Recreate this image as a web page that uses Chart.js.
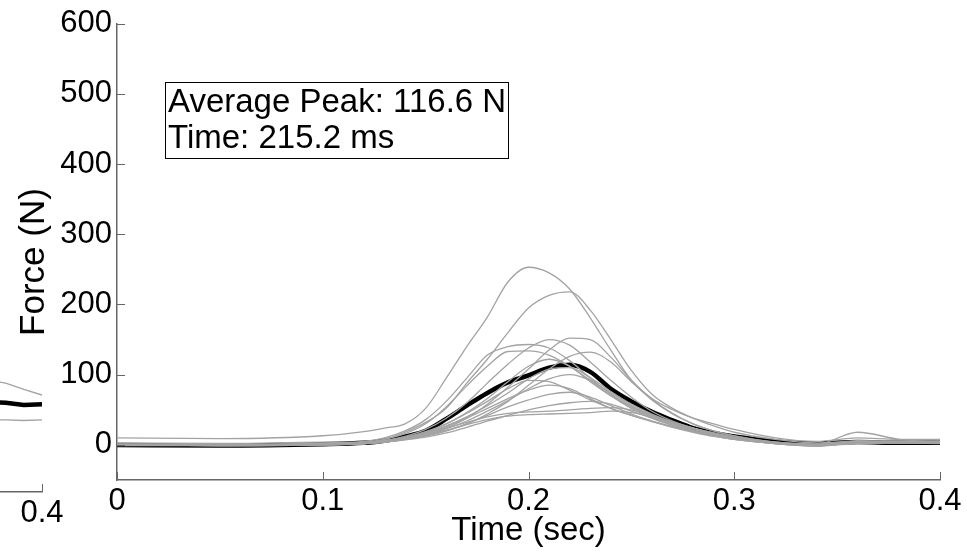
<!DOCTYPE html>
<html lang="en">
<head>
    <meta charset="UTF-8">
    <title>Force vs Time</title>
    <script src="https://cdn.jsdelivr.net/npm/chart.js"></script>
    <style>
        * { margin: 0; padding: 0; box-sizing: border-box; }
        body { width: 967px; height: 553px; background: #fff; overflow: hidden; position: relative; }
        #main { position: absolute; left: 0; top: 0; }
        #side { position: absolute; left: -164px; top: 0; }
    </style>
</head>
<body>
    <canvas id="side" width="250" height="553"></canvas>
    <canvas id="main" width="967" height="553"></canvas>
    <script>
        // sample times (sec)
        const times = [0, 0.05, 0.1, 0.12, 0.13, 0.14, 0.15, 0.16, 0.17, 0.18, 0.19, 0.2, 0.21, 0.22, 0.23, 0.24, 0.25, 0.26, 0.27, 0.28, 0.29, 0.3, 0.32, 0.34, 0.36, 0.38, 0.4];

        // individual trials (N)
        const trialA = [10, 9, 13, 19, 24, 30, 52, 95, 140, 182, 232, 253, 245, 222, 181, 135, 92, 66, 50, 38, 30, 22, 10, 5, 10, 8, 8];
        const trialB = [3, 2, 4, 3, 8, 18, 32, 52, 88, 122, 160, 195, 213, 218, 192, 150, 106, 72, 52, 38, 27, 18, 8, 3, 5, 5, 5];
        const trialC = [0, -1, 1, 2, 4, 8, 14, 24, 38, 58, 82, 108, 135, 152, 150, 125, 92, 65, 45, 30, 20, 13, 4, 0, 3, 4, 4];
        const trialD = [1, 0, 1, 3, 6, 12, 22, 38, 60, 88, 115, 138, 150, 142, 118, 92, 68, 48, 34, 24, 16, 10, 3, -1, 2, 3, 3];
        const trialE = [0, 0, 2, 5, 10, 20, 36, 62, 95, 128, 140, 143, 138, 120, 95, 72, 54, 40, 30, 22, 15, 10, 3, 0, 4, 5, 4];
        const trialF = [1, 0, 2, 4, 8, 16, 30, 54, 84, 112, 133, 134, 128, 112, 92, 70, 52, 38, 28, 20, 14, 9, 2, -1, 3, 4, 5];
        const trialG = [0, -1, 0, 2, 4, 8, 13, 20, 30, 44, 62, 85, 108, 126, 132, 118, 90, 64, 44, 30, 20, 13, 4, 1, 6, 5, 4];
        const trialH = [0, 0, 1, 3, 6, 11, 19, 30, 46, 66, 90, 112, 122, 112, 90, 70, 54, 42, 32, 24, 17, 11, 3, 0, 5, 4, 3];
        const trialI = [-1, -1, 0, 2, 5, 10, 17, 27, 40, 56, 74, 94, 108, 110, 96, 76, 58, 44, 33, 24, 16, 10, 2, -1, 4, 3, 2];
        const trialJ = [0, 0, 1, 2, 4, 8, 14, 23, 34, 48, 63, 80, 94, 100, 92, 74, 56, 42, 31, 22, 15, 9, 3, 1, 18, 8, 4];
        const trialK = [0, -1, 0, 2, 5, 10, 18, 30, 45, 62, 80, 92, 90, 78, 64, 52, 42, 34, 26, 19, 13, 8, 2, -2, 3, 3, 3];
        const trialL = [0, 0, 1, 3, 6, 10, 16, 26, 38, 52, 66, 78, 85, 80, 66, 52, 42, 33, 25, 18, 12, 8, 2, -1, 3, 4, 4];
        const trialM = [0, -1, 0, 2, 4, 8, 13, 20, 30, 42, 54, 64, 72, 75, 68, 56, 44, 34, 26, 19, 13, 8, 2, 0, 3, 3, 3];
        const trialN = [0, 0, 1, 2, 4, 7, 11, 17, 25, 34, 42, 50, 56, 60, 62, 58, 48, 38, 28, 20, 14, 9, 3, 0, 4, 4, 4];
        const trialO = [1, 0, 1, 3, 6, 10, 16, 24, 32, 40, 45, 47, 48, 50, 52, 53, 50, 42, 32, 23, 16, 10, 4, 1, 5, 4, 4];
        const trialP = [0, 0, 1, 2, 5, 9, 14, 21, 29, 36, 41, 43, 44, 45, 46, 48, 46, 40, 32, 24, 17, 11, 3, 0, 3, 3, 3];
        const trials = [trialA, trialB, trialC, trialD, trialE, trialF, trialG, trialH, trialI, trialJ, trialK, trialL, trialM, trialN, trialO, trialP];

        // average curve (N)
        const average = [0, -1, 1, 3, 6, 12, 20, 37, 56, 74, 89, 99, 110, 114, 104, 80, 62, 47, 35, 24, 17, 12, 5, 2, 4, 3, 3];

        // axis ticks
        const xTicks = [0, 0.1, 0.2, 0.3, 0.4];
        const yTicks = [0, 100, 200, 300, 400, 500, 600];

        // neighbouring subplot, only its right end is visible
        const sideTimes = [0.37, 0.38, 0.39, 0.4];
        const sideUpper = [108, 104, 95, 87];
        const sideLower = [52, 52, 51, 52];
        const sideAverage = [77, 76, 73, 74];

        const boxLines = ['Average Peak: 116.6 N', 'Time: 215.2 ms'];
        const xTitle = 'Time (sec)';
        const yTitle = 'Force (N)';

        const FONT = "'Liberation Sans', Arial, sans-serif";
        const GREY = '#a3a3a3';
        const AXIS = '#666666';

        function pts(xs, ys) {
            return xs.map((x, i) => ({ x: x, y: ys[i] }));
        }

        // MATLAB style ticks pointing into the plot
        const innerTicks = {
            id: 'innerTicks',
            afterDraw(chart, args, opts) {
                const ctx = chart.ctx;
                const xs = chart.scales.x, ys = chart.scales.y;
                const a = chart.chartArea;
                ctx.save();
                ctx.strokeStyle = AXIS;
                ctx.lineWidth = 1;
                (opts.x || []).forEach(v => {
                    const px = Math.round(xs.getPixelForValue(v)) + 0.5;
                    ctx.beginPath();
                    ctx.moveTo(px, a.bottom);
                    ctx.lineTo(px, a.bottom - 8);
                    ctx.stroke();
                });
                (opts.y || []).forEach(v => {
                    const py = Math.round(ys.getPixelForValue(v)) + 0.5;
                    ctx.beginPath();
                    ctx.moveTo(a.left, py);
                    ctx.lineTo(a.left + 8, py);
                    ctx.stroke();
                });
                ctx.restore();
            }
        };

        // text box with the peak values, plus the axis titles
        const labels = {
            id: 'labels',
            afterDraw(chart) {
                const ctx = chart.ctx;
                const a = chart.chartArea;
                ctx.save();
                ctx.strokeStyle = '#000';
                ctx.lineWidth = 1;
                ctx.strokeRect(165.5, 82.5, 343, 76);
                ctx.fillStyle = '#000';
                ctx.font = '33px ' + FONT;
                ctx.textBaseline = 'alphabetic';
                ctx.textAlign = 'left';
                ctx.fillText(boxLines[0], 168, 112);
                ctx.fillText(boxLines[1], 168, 148);

                ctx.textAlign = 'center';
                ctx.font = '33px ' + FONT;
                ctx.fillText(xTitle, (a.left + a.right) / 2, 540);

                ctx.translate(44, 262);
                ctx.rotate(-Math.PI / 2);
                ctx.font = '35px ' + FONT;
                ctx.fillText(yTitle, 0, 0);
                ctx.restore();
            }
        };

        Chart.defaults.font.family = FONT;
        Chart.defaults.color = '#000';

        const datasets = trials.map(t => ({
            data: pts(times, t),
            borderColor: GREY,
            borderWidth: 1.3,
            pointRadius: 0,
            cubicInterpolationMode: 'monotone'
        }));
        datasets.push({
            data: pts(times, average),
            borderColor: '#000',
            borderWidth: 4.5,
            pointRadius: 0,
            cubicInterpolationMode: 'monotone'
        });

        new Chart(document.getElementById('main'), {
            type: 'line',
            data: { datasets: datasets },
            plugins: [innerTicks, labels],
            options: {
                responsive: false,
                animation: false,
                layout: { padding: { left: 0, right: 27, top: 21, bottom: 0 } },
                plugins: {
                    legend: { display: false },
                    tooltip: { enabled: false },
                    innerTicks: { x: xTicks, y: yTicks }
                },
                scales: {
                    x: {
                        type: 'linear',
                        min: 0,
                        max: 0.4,
                        afterBuildTicks: s => { s.ticks = xTicks.map(v => ({ value: v })); },
                        afterFit: s => { s.height = 73; },
                        grid: { display: false, drawTicks: false },
                        border: { display: true, color: AXIS, width: 1.5 },
                        ticks: { padding: 3, font: { size: 31 }, maxRotation: 0, callback: v => String(v) }
                    },
                    y: {
                        min: -50,
                        max: 600,
                        afterBuildTicks: s => { s.ticks = yTicks.map(v => ({ value: v })); },
                        afterFit: s => { s.width = 117; },
                        grid: { display: false, drawTicks: false },
                        border: { display: true, color: AXIS, width: 1.5 },
                        ticks: { padding: 5, font: { size: 31 } }
                    }
                }
            }
        });

        // right end of the neighbouring subplot
        new Chart(document.getElementById('side'), {
            type: 'line',
            data: {
                datasets: [
                    { data: pts(sideTimes, sideUpper), borderColor: GREY, borderWidth: 1.3, pointRadius: 0 },
                    { data: pts(sideTimes, sideLower), borderColor: GREY, borderWidth: 1.3, pointRadius: 0 },
                    { data: pts(sideTimes, sideAverage), borderColor: '#000', borderWidth: 4.5, pointRadius: 0 }
                ]
            },
            plugins: [innerTicks],
            options: {
                responsive: false,
                animation: false,
                layout: { padding: { left: 0, right: 44, top: 32, bottom: 0 } },
                plugins: {
                    legend: { display: false },
                    tooltip: { enabled: false },
                    innerTicks: { x: [0.3, 0.4] }
                },
                scales: {
                    x: {
                        type: 'linear',
                        min: 0.3,
                        max: 0.4,
                        afterBuildTicks: s => { s.ticks = [0.3, 0.4].map(v => ({ value: v })); },
                        afterFit: s => { s.height = 61; },
                        grid: { display: false, drawTicks: false },
                        border: { display: true, color: AXIS, width: 1.5 },
                        ticks: { padding: 3, font: { size: 31 }, maxRotation: 0, callback: v => String(v) }
                    },
                    y: {
                        display: false,
                        min: -50,
                        max: 600
                    }
                }
            }
        });
    </script>
</body>
</html>
